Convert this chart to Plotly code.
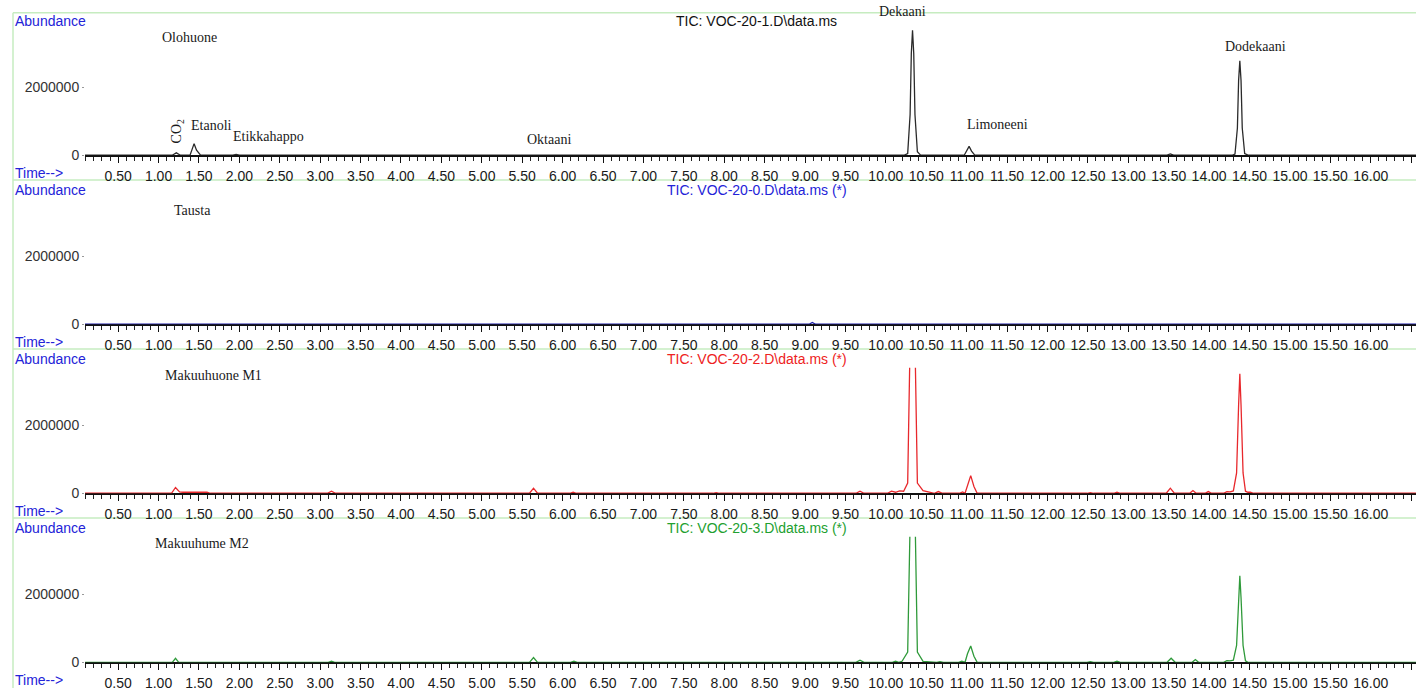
import plotly.graph_objects as go

# ---------------- data (retention time in min, abundance) ----------------
olohuone_t = [0.09, 1.17, 1.22, 1.27, 1.39, 1.42, 1.44, 1.47, 1.52, 1.92, 1.96, 2.00,
              3.09, 3.13, 3.17, 5.60, 5.64, 5.68,
              10.23, 10.27, 10.30, 10.315, 10.33, 10.345, 10.36, 10.39, 10.43,
              10.97, 11.00, 11.03, 11.06, 11.10,
              13.48, 13.52, 13.56, 13.79, 13.83, 13.87,
              14.29, 14.32, 14.35, 14.365, 14.38, 14.395, 14.41, 14.44, 14.48, 16.56]
olohuone_y = [0, 0, 70000, 0, 0, 200000, 340000, 150000, 0, 0, 20000, 0,
              0, 20000, 0, 0, 20000, 0,
              0, 50000, 1200000, 3000000, 3680000, 3000000, 1200000, 100000, 0,
              0, 150000, 260000, 120000, 0,
              0, 40000, 0, 0, 20000, 0,
              0, 30000, 800000, 2200000, 2780000, 2200000, 800000, 50000, 0, 0]

tausta_t = [0.09, 9.05, 9.09, 9.13, 16.56]
tausta_y = [0, 0, 50000, 0, 0]

m1_t = [0.09, 1.16, 1.21, 1.26, 1.30, 1.60, 1.64, 1.92, 1.96, 2.00,
        3.09, 3.14, 3.19, 5.59, 5.64, 5.69, 6.09, 6.13, 6.17, 7.86, 7.90, 7.94,
        9.40, 9.44, 9.48, 9.63, 9.68, 9.73, 10.02, 10.07, 10.12, 10.17, 10.22,
        10.27, 10.30, 10.315, 10.345, 10.36, 10.39, 10.46, 10.53, 10.60, 10.65, 10.70,
        10.91, 10.95, 10.98, 11.01, 11.05, 11.09, 11.13,
        12.49, 12.53, 12.57, 12.82, 12.86, 12.90, 13.47, 13.52, 13.57,
        13.76, 13.80, 13.84, 13.95, 13.99, 14.03, 14.18, 14.22, 14.26,
        14.30, 14.34, 14.365, 14.38, 14.395, 14.42, 14.45, 14.48, 14.51, 14.55, 16.56]
m1_y = [0, 0, 170000, 40000, 30000, 30000, 0, 0, 20000, 0,
        0, 60000, 0, 0, 150000, 0, 0, 30000, 0, 0, 20000, 0,
        0, 20000, 0, 0, 60000, 0, 0, 60000, 30000, 70000, 60000,
        300000, 4500000, 6000000, 6000000, 4500000, 300000, 80000, 40000, 0, 50000, 0,
        0, 40000, 0, 250000, 520000, 200000, 0,
        0, 20000, 0, 0, 30000, 0, 0, 150000, 0,
        0, 80000, 0, 0, 50000, 0, 0, 50000, 40000,
        70000, 600000, 2600000, 3520000, 2600000, 600000, 60000, 30000, 30000, 0, 0]

m2_t = [0.09, 1.17, 1.21, 1.25, 3.10, 3.14, 3.18, 5.59, 5.64, 5.69, 6.10, 6.14, 6.18,
        9.63, 9.68, 9.73, 10.08, 10.12, 10.16, 10.20,
        10.27, 10.30, 10.315, 10.345, 10.36, 10.39, 10.46,
        10.63, 10.67, 10.71, 10.90, 10.94, 10.98, 11.01, 11.05, 11.09, 11.13,
        12.49, 12.53, 12.57, 12.82, 12.86, 12.90, 13.48, 13.53, 13.58,
        13.79, 13.83, 13.87, 14.18, 14.22, 14.26,
        14.30, 14.34, 14.365, 14.38, 14.395, 14.42, 14.45, 14.48, 14.51, 16.56]
m2_y = [0, 0, 120000, 0, 0, 30000, 0, 0, 140000, 0, 0, 30000, 0,
        0, 60000, 0, 0, 30000, 0, 30000,
        300000, 4500000, 6000000, 6000000, 4500000, 300000, 30000,
        0, 20000, 0, 0, 30000, 0, 250000, 480000, 180000, 0,
        0, 20000, 0, 0, 30000, 0, 0, 120000, 0,
        0, 80000, 0, 0, 50000, 40000,
        60000, 500000, 1900000, 2550000, 1900000, 500000, 40000, 0, 0, 0]

traces_t = [olohuone_t, tausta_t, m1_t, m2_t]
traces_y = [olohuone_y, tausta_y, m1_y, m2_y]
line_colors = ["#2a2a2a", "#1c1ca8", "#e8282c", "#2f9a3a"]
tic_titles = ["TIC: VOC-20-1.D\\data.ms", "TIC: VOC-20-0.D\\data.ms (*)",
              "TIC: VOC-20-2.D\\data.ms (*)", "TIC: VOC-20-3.D\\data.ms (*)"]
title_colors = ["#111111", "#2323d8", "#ee2222", "#22a030"]
panel_names = ["Olohuone", "Tausta", "Makuuhuone M1", "Makuuhume M2"]
panel_name_t = [1.38, 1.42, 1.68, 1.54]
panel_name_y = [3467000, 3350000, 3467000, 3496000]

peak_labels = ["CO<sub>2</sub>", "Etanoli", "Etikkahappo", "Oktaani", "Limoneeni", "Dodekaani"]
peak_label_t = [1.24, 1.65, 2.36, 5.83, 11.38, 14.57]
peak_label_y = [700000, 874000, 553000, 466000, 903000, 3205000]
peak_label_angle = [-90, 0, 0, 0, 0, 0]
# label of the tallest peak sits above the plotting area (pixel position)
top_label = "Dekaani"
top_label_px = (902, 12)

x_range = [0.09, 16.56]
y_range = [0, 3700000]
y_ticks = [0, 2000000]
y_ticktext = ["0", "2000000"]

# ---------------- layout geometry (pixels) ----------------
W, H = 1416, 696
zero_px = [157, 328, 499, 670]
plot_h = 127
x_left_px = 85

fig = go.Figure()
for i in range(4):
    ax = "" if i == 0 else str(i + 1)
    fig.add_trace(go.Scatter(x=traces_t[i], y=traces_y[i], mode="lines",
                             line=dict(color=line_colors[i], width=1.3),
                             xaxis="x" + ax, yaxis="y" + ax, showlegend=False,
                             hoverinfo="skip"))
    y0 = 1 - zero_px[i] / H
    y1 = 1 - (zero_px[i] - plot_h) / H
    fig.layout["xaxis" + ax] = dict(
        domain=[x_left_px / W, 1.0], range=x_range, anchor="y" + ax,
        showgrid=False, zeroline=False, showline=True, linecolor="#111111", linewidth=1.5,
        layer="below traces",
        ticks="outside", ticklen=6, tickcolor="#111111", tickwidth=1.2,
        tick0=0, dtick=0.5, tickformat=".2f",
        minor=dict(ticks="outside", ticklen=4, dtick=0.1, tick0=0, tickcolor="#222222",
                   tickwidth=1, showgrid=False),
        tickfont=dict(family="Arial, Liberation Sans", size=14, color="#1a1a1a"),
        ticklabelstandoff=1)
    fig.layout["yaxis" + ax] = dict(
        domain=[y0, y1], range=y_range, anchor="x" + ax,
        showgrid=False, zeroline=False, showline=False,
        tickvals=y_ticks, ticktext=y_ticktext, ticks="outside", ticklen=2,
        tickcolor="#999999",
        tickfont=dict(family="Arial, Liberation Sans", size=14, color="#333333"))

annotations = []
shapes = []
blue = "#2323d8"
for i in range(4):
    off = 171 * i
    ax = "" if i == 0 else str(i + 1)
    annotations.append(dict(text="Abundance", xref="paper", yref="paper", x=13 / W, y=1 - (21 + off) / H,
                            xanchor="left", yanchor="middle", showarrow=False,
                            font=dict(family="Arial, Liberation Sans", size=14, color=blue)))
    annotations.append(dict(text="Time-->", xref="paper", yref="paper", x=13 / W, y=1 - (175 + off) / H,
                            xanchor="left", yanchor="middle", showarrow=False,
                            font=dict(family="Arial, Liberation Sans", size=14, color=blue)))
    annotations.append(dict(text=tic_titles[i], xref="paper", yref="paper", x=757 / W, y=1 - (21 + off) / H,
                            xanchor="center", yanchor="middle", showarrow=False,
                            font=dict(family="Arial, Liberation Sans", size=14, color=title_colors[i])))
    annotations.append(dict(text=panel_names[i], xref="x" + ax, yref="y" + ax,
                            x=panel_name_t[i], y=panel_name_y[i], xanchor="center", yanchor="middle",
                            showarrow=False,
                            font=dict(family="Liberation Serif, Times New Roman", size=14, color="#1a1a1a")))

for j in range(len(peak_labels)):
    annotations.append(dict(text=peak_labels[j], xref="x", yref="y", x=peak_label_t[j], y=peak_label_y[j],
                            xanchor="center", yanchor="middle", showarrow=False, textangle=peak_label_angle[j],
                            font=dict(family="Liberation Serif, Times New Roman", size=14, color="#1a1a1a")))
annotations.append(dict(text=top_label, xref="paper", yref="paper", x=top_label_px[0] / W,
                        y=1 - top_label_px[1] / H, xanchor="center", yanchor="middle", showarrow=False,
                        font=dict(family="Liberation Serif, Times New Roman", size=14, color="#1a1a1a")))

green = "#c6ecc0"
for py in [13, 182, 353, 524]:
    shapes.append(dict(type="line", xref="paper", yref="paper", x0=13 / W, x1=1, y0=1 - py / H, y1=1 - py / H,
                       line=dict(color=green, width=1.5), layer="below"))
shapes.append(dict(type="line", xref="paper", yref="paper", x0=13 / W, x1=13 / W, y0=0, y1=1 - 13 / H,
                   line=dict(color=green, width=1.5), layer="below"))

fig.update_layout(width=W, height=H, margin=dict(l=0, r=0, t=0, b=0),
                  paper_bgcolor="white", plot_bgcolor="white",
                  annotations=annotations, shapes=shapes, showlegend=False)

fig.write_html("out.html", config={"displayModeBar": False})
